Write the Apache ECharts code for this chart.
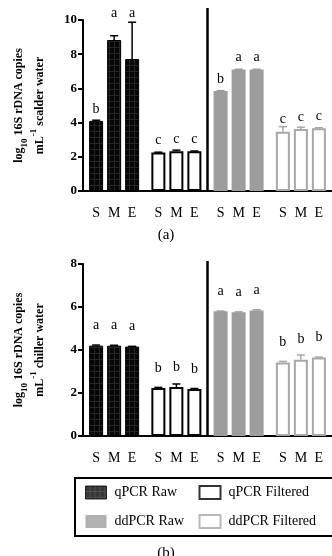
<!DOCTYPE html>
<html>
<head>
<meta charset="utf-8">
<script src="https://cdn.jsdelivr.net/npm/echarts@6/dist/echarts.min.js"></script>
<style>
html,body{margin:0;padding:0;background:#fff;}
#main{width:332px;height:556px;}
</style>
</head>
<body>
<div id="main"></div>
<script>
// groups along x, three samples (S, M, E) in each
var groups = ['qPCR Raw', 'qPCR Filtered', 'ddPCR Raw', 'ddPCR Filtered'];
var samples = ['S', 'M', 'E'];

// (a) scalder water, log10 copies/mL
var scalderMean = [[4.1, 8.83, 7.72], [2.25, 2.32, 2.32], [5.85, 7.1, 7.1], [3.47, 3.63, 3.67]];
var scalderErr = [[0.04, 0.25, 2.15], [0.02, 0.07, 0.02], [0.02, 0.02, 0.02], [0.29, 0.1, 0.03]];
var scalderLetters = [['b', 'a', 'a'], ['c', 'c', 'c'], ['b', 'a', 'a'], ['c', 'c', 'c']];
var scalderTicks = [0, 10, 2];

// (b) chiller water
var chillerMean = [[4.2, 4.2, 4.16], [2.23, 2.28, 2.19], [5.8, 5.76, 5.84], [3.42, 3.55, 3.65]];
var chillerErr = [[0.03, 0.02, 0.01], [0.03, 0.14, 0.02], [0.01, 0.01, 0.03], [0.05, 0.22, 0.02]];
var chillerLetters = [['a', 'a', 'a'], ['b', 'b', 'b'], ['a', 'a', 'a'], ['b', 'b', 'b']];
var chillerTicks = [0, 8, 2];

var serif = '"Liberation Serif", "Times New Roman", serif';

// black fill with faint grid, like the qPCR Raw bars
var pat = document.createElement('canvas');
pat.width = 5; pat.height = 6;
var pctx = pat.getContext('2d');
pctx.fillStyle = '#060606'; pctx.fillRect(0, 0, 5, 6);
pctx.fillStyle = '#262626'; pctx.fillRect(4, 0, 1, 6); pctx.fillRect(0, 5, 5, 1);

var groupStyle = [
	{color: {image: pat, repeat: 'repeat'}, borderColor: '#000', borderWidth: 1},
	{color: '#fff', borderColor: '#000', borderWidth: 2},
	{color: '#9d9d9d', borderColor: '#9d9d9d', borderWidth: 0},
	{color: '#fff', borderColor: '#a8a8a8', borderWidth: 2}
];
var errColor = ['#000', '#000', '#9d9d9d', '#a8a8a8'];

function barSeries(idx, means, letters, dist, lift) {
	return samples.map(function (s, si) {
		return {
			type: 'bar', name: s, xAxisIndex: idx, yAxisIndex: idx,
			barWidth: 14, barGap: '28.6%',
			label: {show: true, position: 'top', distance: dist, fontFamily: serif, fontSize: 14, color: '#000'},
			data: groups.map(function (g, k) {
				var item = {value: means[k][si], itemStyle: groupStyle[k], label: {formatter: letters[k][si]}};
				if (lift[k + '-' + si]) item.label.distance = lift[k + '-' + si];
				return item;
			})
		};
	});
}

function errSeries(idx, means, errs) {
	var data = [];
	groups.forEach(function (g, k) {
		samples.forEach(function (s, si) {
			data.push([k, si, means[k][si], means[k][si] + errs[k][si]]);
		});
	});
	return {
		type: 'custom', xAxisIndex: idx, yAxisIndex: idx, z: 3, silent: true,
		encode: {x: 0, y: [2, 3]},
		renderItem: function (params, api) {
			var k = api.value(0), si = api.value(1);
			var base = api.coord([k, api.value(2)]);
			var top = api.coord([k, api.value(3)]);
			var x = base[0] + (si - 1) * 18;
			var st = {stroke: errColor[k], lineWidth: 1.5};
			return {type: 'group', children: [
				{type: 'line', shape: {x1: x, y1: base[1], x2: x, y2: top[1]}, style: st},
				{type: 'line', shape: {x1: x - 4, y1: top[1], x2: x + 4, y2: top[1]}, style: st}
			]};
		},
		data: data
	};
}

function dividerSeries(idx, ymax, extra) {
	return {
		type: 'custom', xAxisIndex: idx, yAxisIndex: idx, z: 4, silent: true,
		renderItem: function (params, api) {
			var x = (api.coord([1, 0])[0] + api.coord([2, 0])[0]) / 2;
			var y0 = api.coord([1, 0])[1];
			var y1 = api.coord([1, ymax])[1] - extra;
			return {type: 'line', shape: {x1: x, y1: y0 + 1, x2: x, y2: y1}, style: {stroke: '#000', lineWidth: 2.5}};
		},
		data: [[1, 0]]
	};
}

function xAxis(idx) {
	return {
		gridIndex: idx, type: 'category', data: groups,
		axisLine: {lineStyle: {color: '#000', width: 2}},
		axisTick: {alignWithLabel: true, length: 5, lineStyle: {color: '#000', width: 2}},
		axisLabel: {
			margin: 15, interval: 0, hideOverlap: false,
			formatter: function () { return '{s|S}{s|M}{s|E}'; },
			rich: {s: {width: 18, align: 'center', fontFamily: serif, fontSize: 14, color: '#000'}}
		}
	};
}

function yAxis(idx, ticks, name) {
	return {
		gridIndex: idx, type: 'value', min: ticks[0], max: ticks[1], interval: ticks[2],
		axisLine: {show: true, lineStyle: {color: '#000', width: 2}},
		axisTick: {show: true, length: 5, lineStyle: {color: '#000', width: 2}},
		splitLine: {show: false},
		axisLabel: {fontFamily: serif, fontWeight: 'bold', fontSize: 13, color: '#000', margin: 6},
		name: name, nameLocation: 'middle', nameRotate: 90, nameGap: 33,
		nameTextStyle: {
			fontFamily: serif, fontWeight: 'bold', fontSize: 12, color: '#000', lineHeight: 21,
			rich: {
				b: {fontFamily: serif, fontWeight: 'bold', fontSize: 12, color: '#000', lineHeight: 21},
				sub: {fontFamily: serif, fontWeight: 'bold', fontSize: 9, color: '#000', lineHeight: 9, verticalAlign: 'bottom'},
				sup: {fontFamily: serif, fontWeight: 'bold', fontSize: 9, color: '#000', lineHeight: 9, verticalAlign: 'top'}
			}
		}
	};
}

var series = []
	.concat(barSeries(0, scalderMean, scalderLetters, 5, {'0-1': 20, '0-2': 39}))
	.concat(errSeries(0, scalderMean, scalderErr))
	.concat(dividerSeries(0, scalderTicks[1], 12))
	.concat(barSeries(1, chillerMean, chillerLetters, 13, {}))
	.concat(errSeries(1, chillerMean, chillerErr))
	.concat(dividerSeries(1, chillerTicks[1], 3));

// empty series only to feed the legend
groups.forEach(function (g, k) {
	series.push({type: 'scatter', name: g, xAxisIndex: 0, yAxisIndex: 0, data: [], itemStyle: groupStyle[k]});
});

var chart = echarts.init(document.getElementById('main'), null, {renderer: 'canvas'});
chart.setOption({
	animation: false,
	backgroundColor: '#fff',
	grid: [
		{left: 70, right: 0, top: 20, height: 171},
		{left: 70, right: 0, top: 264, height: 172}
	],
	xAxis: [xAxis(0), xAxis(1)],
	yAxis: [
		yAxis(0, scalderTicks, '{b|log}{sub|10}{b| 16S rDNA copies}\n{b|mL}{sup|-1}{b| scalder water}'),
		yAxis(1, chillerTicks, '{b|log}{sub|10}{b| 16S rDNA copies}\n{b|mL}{sup|-1}{b| chiller water}')
	],
	title: [
		{text: '(a)', left: 'center', top: 223, textStyle: {fontFamily: serif, fontWeight: 'normal', fontSize: 15, color: '#000'}},
		{text: '(b)', left: 'center', top: 541, textStyle: {fontFamily: serif, fontWeight: 'normal', fontSize: 15, color: '#000'}}
	],
	legend: {
		data: groups.map(function (g, k) { return {name: g, itemStyle: groupStyle[k]}; }),
		icon: 'rect', selectedMode: false,
		left: 75, top: 478, width: 300,
		itemWidth: 21, itemHeight: 13, itemGap: 10,
		padding: [5, 22, 5, 10],
		borderColor: '#000', borderWidth: 2,
		textStyle: {fontFamily: serif, fontSize: 14, color: '#000', width: 74, overflow: 'none', lineHeight: 19, padding: [0, 0, 0, 3]}
	},
	series: series
});
</script>
</body>
</html>
